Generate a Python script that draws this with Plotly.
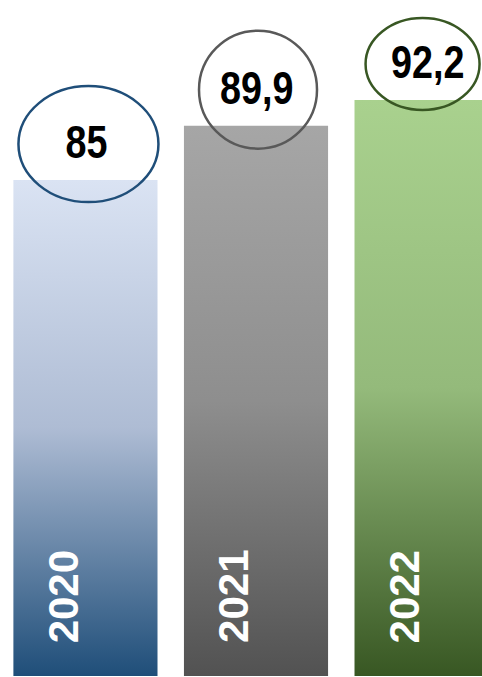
import plotly.graph_objects as go

# ---- data ----
years = ["2020", "2021", "2022"]
values = [85, 89.9, 92.2]
value_labels = ["85", "89,9", "92,2"]

# ---- styles ----
# gradient stops: bottom, middle, top
bottom_colors = ["#1F4E79", "#525252", "#385723"]
mid_colors = ["#AEBCD4", "#8E8E8E", "#94BA7B"]
top_colors = ["#DAE3F3", "#A6A6A6", "#A9D18E"]
ring_colors = ["#1F4E79", "#595959", "#385723"]
# ellipse half-sizes (px) and x offset from bar centre
ring_rx = [70, 59, 57]
ring_ry = [58, 59, 46]
ring_dx = [3, 2, -4]

Y_MIN, Y_MAX = 40.4, 101.2
BAR_HALF = 0.4225

fig = go.Figure()
for i, (yr, v) in enumerate(zip(years, values)):
    fig.add_trace(go.Scatter(
        x=[i - BAR_HALF, i + BAR_HALF], y=[v, v],
        mode="lines", line=dict(width=0, color=top_colors[i]),
        fill="tozeroy",
        fillgradient=dict(type="vertical", start=Y_MIN, stop=v,
                          colorscale=[[0, bottom_colors[i]],
                                      [0.5, mid_colors[i]],
                                      [1, top_colors[i]]]),
        hoverinfo="skip", showlegend=False, name=yr,
    ))
    # value ellipse
    fig.add_shape(type="circle", xref="x", yref="y",
                  xsizemode="pixel", ysizemode="pixel",
                  xanchor=i, yanchor=v,
                  x0=ring_dx[i] - ring_rx[i], x1=ring_dx[i] + ring_rx[i],
                  y0=36 - ring_ry[i], y1=36 + ring_ry[i],
                  line=dict(color=ring_colors[i], width=2.5),
                  fillcolor="rgba(0,0,0,0)", layer="above")

# value labels (annotation indices 0..2)
for i, v in enumerate(values):
    fig.add_annotation(x=i, y=v, xref="x", yref="y", text=f"<b>{value_labels[i]}</b>",
                       showarrow=False, yshift=38, xshift=1,
                       font=dict(family="Liberation Sans Narrow, Arial Narrow, Liberation Sans, Arial",
                                 size=46, color="black"))
# year labels inside the bars (indices 3..5)
for i, yr in enumerate(years):
    fig.add_annotation(x=i, y=0.117, xref="x", yref="paper", text=f"<b>{yr}</b>",
                       showarrow=False, textangle=-90, xshift=-22,
                       xanchor="center", yanchor="middle",
                       font=dict(family="Liberation Sans, Arial", size=42, color="white"))

fig.update_layout(
    width=482, height=677,
    margin=dict(l=0, r=0, t=0, b=1),
    paper_bgcolor="white", plot_bgcolor="white",
    xaxis=dict(range=[-0.501, 2.325], visible=False, fixedrange=True),
    yaxis=dict(range=[Y_MIN, Y_MAX], visible=False, fixedrange=True),
    showlegend=False,
)

post = """
document.body.style.margin = '0';
document.querySelectorAll('g.annotation').forEach(function (g) {
  var idx = +g.getAttribute('data-index');
  if (idx < 3) {
    g.querySelectorAll('text').forEach(function (t) {
      t.style.transformBox = 'fill-box';
      t.style.transformOrigin = 'center';
      t.style.transform = 'scaleX(0.82)';
    });
  }
});
"""
fig.write_html("out.html", post_script=post, config={"displayModeBar": False})
